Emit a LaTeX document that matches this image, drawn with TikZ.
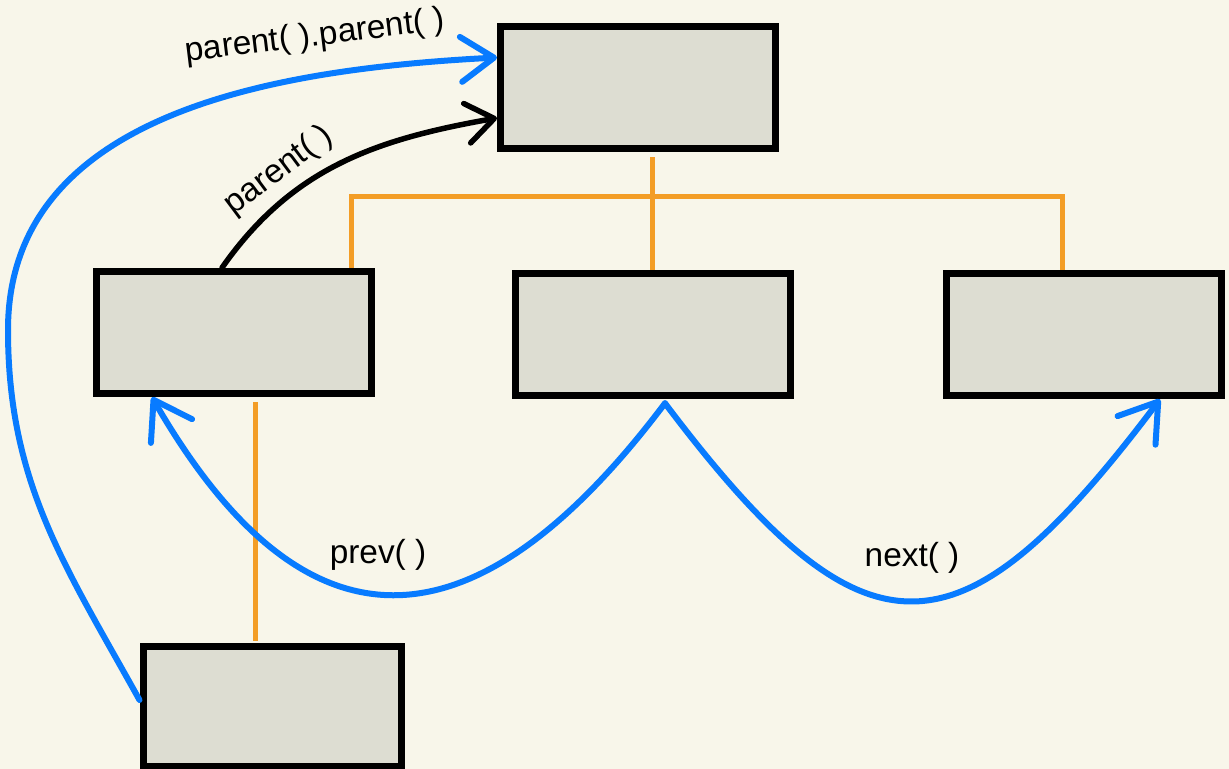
\documentclass[tikz,border=0pt]{standalone}
\usepackage{fontspec}
\setmainfont{Liberation Sans}
\usetikzlibrary{arrows.meta,positioning,calc}

\definecolor{paper}{RGB}{248,246,234}
\definecolor{boxgray}{RGB}{221,221,210}
\definecolor{linkblue}{RGB}{8,123,255}
\definecolor{treeorange}{RGB}{243,157,38}

\tikzset{
  elem/.style={draw=black,fill=boxgray,line width=0.14cm,inner sep=0pt,
    minimum width=5.5cm,minimum height=2.45cm},
  tree/.style={treeorange,line width=0.1cm},
  nav/.style={linkblue,line width=0.12cm,line cap=round,
    -{Straight Barb[length=0.72cm,width=0.95cm,round]}},
  lbl/.style={font=\fontsize{19}{21}\selectfont}
}

\begin{document}
\begin{tikzpicture}
  \fill[paper] (0,0) rectangle (24.58,15.38);
  \useasboundingbox (0,0) rectangle (24.58,15.38);

  \node [elem] (top) at (12.76,13.63) {};
  \node [elem] (left) at (4.68,8.73) {};
  \node [elem] (mid) at (13.05,8.69) {};
  \node [elem] (right) at (21.68,8.69) {};
  \node [elem,minimum width=5.16cm,minimum height=2.4cm] (bottom) at (5.44,1.24) {};

  % tree lines
  \coordinate (busL) at (7.02,11.44);
  \coordinate (busR) at (21.24,11.44);
  \coordinate (stem) at (5.1,0);
  \draw[tree] ([yshift=-0.1cm]top.south -| mid.north) -- (mid.north);
  \draw[tree] (busL |- left.north) -- (busL) -- (busR) -- (busR |- right.north);
  \draw[tree] ([yshift=-0.1cm]stem |- left.south) -- ([yshift=0.05cm]stem |- bottom.north);

  % parent()
  \draw[black,line width=0.11cm,line cap=round,
    -{Straight Barb[length=0.55cm,width=0.8cm,round]}]
    ([xshift=-0.24cm]left.north) to[out=55,in=190]
    node[lbl,pos=0.32,sloped,above=1pt] {parent( )}
    ([yshift=-0.61cm]top.west);

  % parent().parent()
  \draw[nav,-{Straight Barb[length=0.66cm,width=0.9cm,round]}]
    ([yshift=0.14cm]bottom.west) to[out=119,in=-90] (0.16,8.78)
    to[out=90,in=183] ([yshift=0.6cm]top.west);
  \node[lbl,rotate=7] (pp) at (6.3,14.64) {parent( ).parent( )};

  % prev() / next()
  \coordinate (fork) at ([xshift=0.25cm,yshift=-0.08cm]mid.south);
  \draw[nav] (fork) to[out=233,in=300,looseness=1.55] ([xshift=-1.64cm]left.south);
  \draw[nav] (fork) to[out=-53,in=233,looseness=1.72] ([xshift=1.52cm]right.south);
  \node[lbl] (prev) at (7.56,4.28) {prev( )};
  \node[lbl] (next) at (18.24,4.22) {next( )};
\end{tikzpicture}
\end{document}
